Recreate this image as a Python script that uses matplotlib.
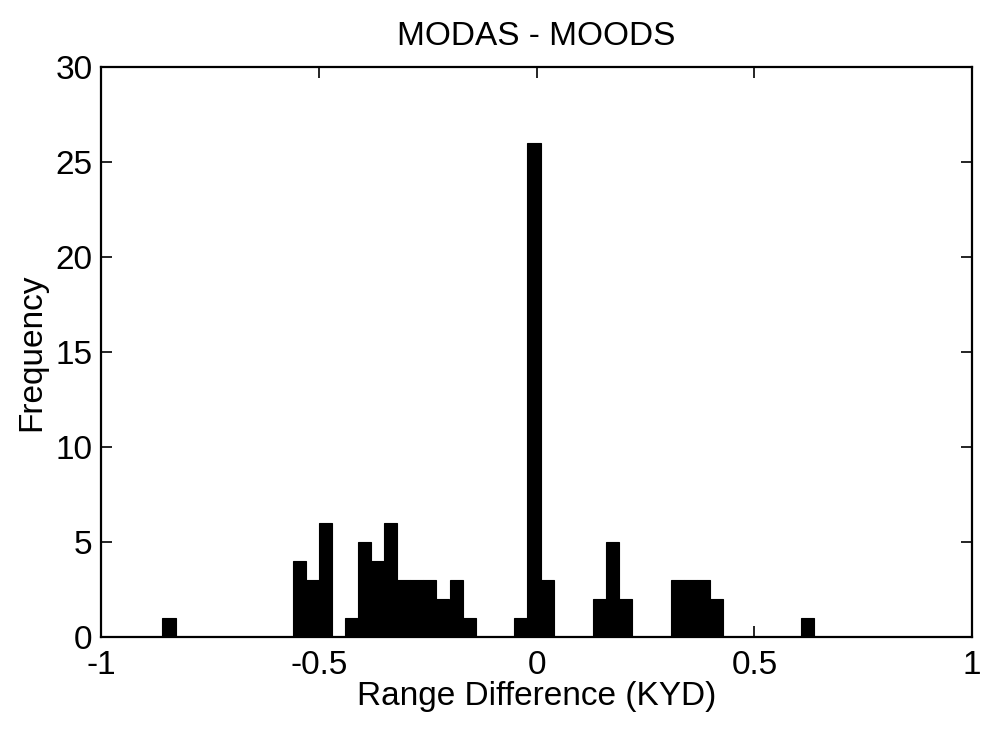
import matplotlib
matplotlib.use("Agg")
import matplotlib.pyplot as plt

# Histogram of range differences (bin centres and counts)
bin_centers = [-0.844, -0.545, -0.515, -0.485, -0.425, -0.395, -0.365, -0.335,
               -0.305, -0.275, -0.245, -0.215, -0.185, -0.155, -0.036, -0.006,
               0.024, 0.144, 0.174, 0.204, 0.323, 0.353, 0.383, 0.413, 0.622]
counts = [1, 4, 3, 6, 1, 5, 4, 6,
          3, 3, 3, 2, 3, 1, 1, 26,
          3, 2, 5, 2, 3, 3, 3, 2, 1]
bin_width = 0.0299

x_ticks = [-1, -0.5, 0, 0.5, 1]
x_tick_labels = ["-1", "-0.5", "0", "0.5", "1"]
y_ticks = [0, 5, 10, 15, 20, 25, 30]

title = "MODAS - MOODS"
x_label = "Range Difference (KYD)"
y_label = "Frequency"

plt.rcParams['font.family'] = ['Liberation Sans', 'DejaVu Sans']

fig = plt.figure(figsize=(9.81, 7.30), dpi=100)
ax = fig.add_axes([0.103, 0.127, 0.888, 0.781])

ax.bar(bin_centers, counts, width=bin_width, color='black', edgecolor='black',
       linewidth=0.8, align='center')

ax.set_xlim(-1, 1)
ax.set_ylim(0, 30)
ax.set_xticks(x_ticks)
ax.set_xticklabels(x_tick_labels)
ax.set_yticks(y_ticks)

fs = 24
ax.tick_params(direction='in', length=8, width=1.2, top=True, right=True,
               labelsize=fs)
ax.tick_params(axis='x', pad=9)
ax.tick_params(axis='y', pad=6)
for s in ax.spines.values():
    s.set_linewidth(1.6)

ax.set_title(title, fontsize=fs, pad=16)
ax.set_xlabel(x_label, fontsize=fs, labelpad=0)
ax.set_ylabel(y_label, fontsize=fs, labelpad=6)

fig.savefig("out.png", dpi=100)
